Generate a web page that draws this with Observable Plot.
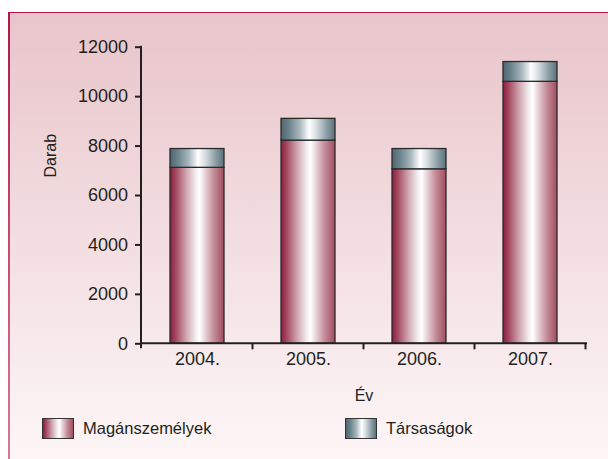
<!DOCTYPE html>
<html>
<head>
<meta charset="utf-8">
<script src="https://cdn.jsdelivr.net/npm/d3@7"></script>
<script src="https://cdn.jsdelivr.net/npm/@observablehq/plot@0.6"></script>
<style>
  body { margin: 0; background: #fff; font-family: "Liberation Sans", Arial, sans-serif; color: #231f20; }
  #wrap { position: relative; width: 608px; height: 459px; overflow: hidden; }
  #bg { position: absolute; left: 8px; top: 12px; right: 0; bottom: 0;
        background: linear-gradient(#e8c5ca, #fdf6f7); border-top: 1.5px solid #b3154a; }
  #lb { position: absolute; left: 8px; top: 12px; width: 1.5px; bottom: 0;
        background: linear-gradient(#b3154a, #d8789c); }
  #chart { position: absolute; left: 0; top: 0; }
  .leg { position: absolute; top: 418px; display: flex; align-items: center; font-size: 16.5px; }
  .sw { width: 30px; height: 19px; border: 1px solid #333; margin-right: 9px; box-sizing: content-box; }
</style>
</head>
<body>
<div id="wrap">
  <div id="bg"></div>
  <div id="lb"></div>
  <div id="chart"></div>
  <div id="legend"></div>
</div>
<script>
const years = ["2004.", "2005.", "2006.", "2007."];
const seriesNames = ["Magánszemélyek", "Társaságok"];
const maganszemelyek = [7120, 8220, 7060, 10600];
const tarsasagok = [760, 880, 820, 800];
const yTicks = [0, 2000, 4000, 6000, 8000, 10000, 12000];
const xTitle = "Év";
const yTitle = "Darab";

const rows = [
  ...years.map((y, i) => ({year: y, series: seriesNames[0], value: maganszemelyek[i]})),
  ...years.map((y, i) => ({year: y, series: seriesNames[1], value: tarsasagok[i]}))
];

const magStops = [[0,"#8c1d42"],[0.1,"#a2465d"],[0.3,"#d0a5b0"],[0.48,"#f4eef0"],[0.55,"#ffffff"],[0.62,"#eedfe3"],[0.8,"#c5909c"],[1,"#a24d60"]];
const tarStops = [[0,"#4e6670"],[0.15,"#6d848d"],[0.35,"#a9b8be"],[0.52,"#ffffff"],[0.65,"#d6dee1"],[0.85,"#8a9da4"],[1,"#5a717b"]];

function defsMark() {
  const defs = d3.create("svg:defs");
  for (const [id, stops] of [["gMag", magStops], ["gTar", tarStops]]) {
    const lg = defs.append("linearGradient").attr("id", id).attr("x1", 0).attr("x2", 1).attr("y1", 0).attr("y2", 0);
    for (const [o, c] of stops) lg.append("stop").attr("offset", o).attr("stop-color", c);
  }
  return defs.node();
}

function axesLines(index, scales, values, dims) {
  const x = scales.x, y = scales.y;
  const g = d3.create("svg:g").attr("stroke", "#231f20").attr("stroke-width", 2).attr("fill", "none");
  const x0 = dims.marginLeft, x1 = dims.width - dims.marginRight;
  const y0 = y(0), yTop = y(12000);
  g.append("line").attr("x1", x0).attr("x2", x0).attr("y1", yTop - 1).attr("y2", y0 + 5);
  g.append("line").attr("x1", x0).attr("x2", x1 + 1).attr("y1", y0).attr("y2", y0);
  const step = x.step ? x.step() : scales.scales.x.step;
  const bw = x.bandwidth ? x.bandwidth() : scales.scales.x.bandwidth;
  const edges = years.map(yr => x(yr) - (step - bw) / 2);
  edges.push(x(years[years.length - 1]) + bw + (step - bw) / 2);
  for (const e of edges.slice(1)) {
    g.append("line").attr("x1", e).attr("x2", e).attr("y1", y0).attr("y2", y0 + 6);
  }
  return g.node();
}

const plot = Plot.plot({
  width: 608,
  height: 410,
  marginLeft: 141,
  marginRight: 22,
  marginTop: 46.7,
  marginBottom: 66.7,
  style: {background: "transparent", fontFamily: "'Liberation Sans', Arial, sans-serif", color: "#231f20", overflow: "visible"},
  x: {domain: years, paddingInner: 0.51, paddingOuter: 0.255, label: null},
  y: {domain: [0, 12000], label: null},
  color: {domain: seriesNames, range: ["url(#gMag)", "url(#gTar)"]},
  marks: [
    defsMark,
    Plot.barY(rows, {x: "year", y: "value", fill: "series", stroke: "#2a2a2a", strokeWidth: 1.3}),
    Plot.axisY({ticks: yTicks, tickSize: 6, tickPadding: 7.5, fontSize: 18, strokeWidth: 2, tickFormat: d => String(d), label: null}),
    Plot.axisX({tickSize: 0, tickPadding: 8, fontSize: 18, label: null}),
    axesLines,
    Plot.text([xTitle], {frameAnchor: "bottom", lineAnchor: "middle", dy: 51.6, fontSize: 16, fill: "#231f20"}),
    Plot.text([yTitle], {frameAnchor: "left", rotate: -90, dx: -91, dy: -18, fontSize: 16, fill: "#231f20"})
  ]
});
document.getElementById("chart").appendChild(plot);

const legend = document.getElementById("legend");
const legendGrad = [
  "linear-gradient(to right," + magStops.map(([o, c]) => c + " " + (o * 100) + "%").join(",") + ")",
  "linear-gradient(to right," + tarStops.map(([o, c]) => c + " " + (o * 100) + "%").join(",") + ")"
];
const legendLeft = [42, 345];
seriesNames.forEach((name, i) => {
  const item = document.createElement("div");
  item.className = "leg";
  item.style.left = legendLeft[i] + "px";
  const sw = document.createElement("div");
  sw.className = "sw";
  sw.style.background = legendGrad[i];
  const t = document.createElement("span");
  t.textContent = name;
  item.appendChild(sw);
  item.appendChild(t);
  legend.appendChild(item);
});
</script>
</body>
</html>
